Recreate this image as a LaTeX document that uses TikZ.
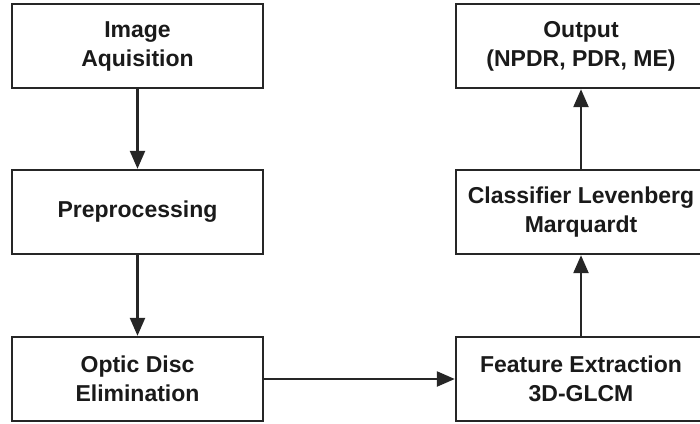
\documentclass[tikz,border=0pt]{standalone}
\usepackage{fontspec}
\setmainfont{Liberation Sans}
\usetikzlibrary{arrows.meta}
\definecolor{linec}{HTML}{262626}
\definecolor{textc}{HTML}{1A1A1A}
\tikzset{
  stepbox/.style={draw=linec, line width=2.4pt, fill=white, rectangle, inner sep=0pt,
    minimum height=84pt, align=center, text=textc,
    font=\fontsize{23}{29}\selectfont\bfseries},
  leftbox/.style={stepbox, minimum width=251pt},
  rightbox/.style={stepbox, minimum width=250pt},
  conn/.style={draw=linec, line width=2.4pt, -{Triangle[length=18pt,width=15pt]}}
}
\begin{document}
\begin{tikzpicture}[x=1pt,y=-1pt]
\useasboundingbox (0,0) rectangle (700,423);
\node[leftbox] (acq) at (137.5,46) {Image\\Aquisition};
\node[leftbox] (pre) at (137.5,212) {Preprocessing};
\node[leftbox] (odi) at (137.5,379) {Optic Disc\\Elimination};
\node[rightbox] (fea) at (581,379) {Feature Extraction\\3D-GLCM};
\node[rightbox] (cls) at (581,212) {Classifier Levenberg\\Marquardt};
\node[rightbox] (out) at (581,46) {Output\\(NPDR, PDR, ME)};
\draw[conn] (acq) -- (pre);
\draw[conn] (pre) -- (odi);
\draw[conn] (odi) -- (fea);
\draw[conn] (fea) -- (cls);
\draw[conn] (cls) -- (out);
\end{tikzpicture}
\end{document}
